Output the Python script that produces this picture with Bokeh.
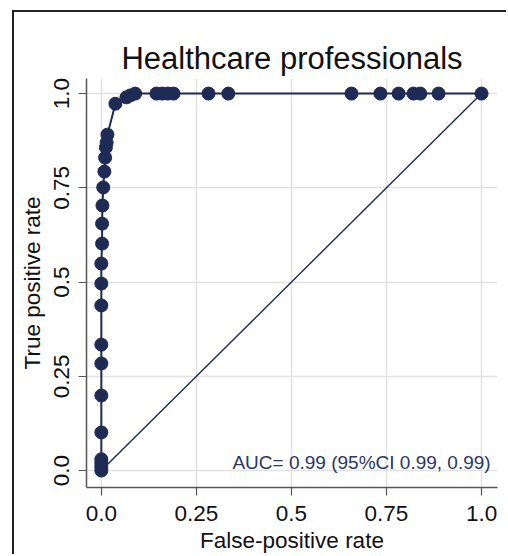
from bokeh.plotting import figure
from bokeh.models import FixedTicker, Range1d, Label
from bokeh.embed import file_html
from bokeh.resources import INLINE

# ROC operating points (false-positive rate, true-positive rate)
fpr = [0.0, 0.0, 0.0, 0.0, 0.0, 0.0, 0.0, 0.0, 0.0, 0.0, 0.0,
       0.002, 0.002, 0.003, 0.005, 0.008, 0.010, 0.012, 0.014, 0.016,
       0.037, 0.066, 0.076, 0.089, 0.145, 0.160, 0.175, 0.190,
       0.282, 0.334, 0.658, 0.734, 0.782, 0.821, 0.839, 0.887, 1.0]
tpr = [0.0, 0.01, 0.02, 0.03, 0.101, 0.199, 0.284, 0.334, 0.438, 0.496, 0.549,
       0.602, 0.655, 0.703, 0.751, 0.793, 0.830, 0.857, 0.870, 0.891,
       0.973, 0.990, 0.995, 1.0, 1.0, 1.0, 1.0, 1.0,
       1.0, 1.0, 1.0, 1.0, 1.0, 1.0, 1.0, 1.0, 1.0]

# reference line of no discrimination
ref_x = [0.0, 1.0]
ref_y = [0.0, 1.0]

tick_values = [0.0, 0.25, 0.5, 0.75, 1.0]
tick_labels = ["0.0", "0.25", "0.5", "0.75", "1.0"]

auc_text = "AUC= 0.99 (95%CI 0.99, 0.99)"

NAVY = "#1d2b55"
FONT = "Liberation Sans"

p = figure(width=494, height=544, output_backend="svg", toolbar_location=None,
           title="Healthcare professionals",
           x_range=Range1d(-0.039, 1.042), y_range=Range1d(-0.045, 1.040),
           min_border_left=72, min_border_right=11,
           min_border_top=66, min_border_bottom=69)

p.styles = {"margin-left": "12px", "margin-top": "10px",
            "border-left": "2px solid #222", "border-top": "2px solid #222"}

p.title.text_font = FONT
p.title.text_font_size = "31px"
p.title.text_font_style = "normal"
p.title.text_color = "#111111"
p.title.align = "center"
p.title.standoff = 6
p.title.offset = 0

p.outline_line_color = None
p.background_fill_color = "white"
p.border_fill_color = "white"

ticks = {v: s for v, s in zip(tick_values, tick_labels)}
for ax in (p.xaxis[0], p.yaxis[0]):
    ax.ticker = FixedTicker(ticks=tick_values)
    ax.major_label_overrides = ticks
    ax.minor_tick_line_color = None
    ax.major_tick_in = 0
    ax.major_tick_out = 8
    ax.axis_line_color = "#555555"
    ax.axis_line_width = 1.5
    ax.major_tick_line_color = "#555555"
    ax.major_tick_line_width = 1.2
    ax.major_label_text_font = FONT
    ax.major_label_text_font_size = "22.5px"
    ax.major_label_text_color = "#111111"
    ax.major_label_standoff = 10
    ax.axis_label_text_font = FONT
    ax.axis_label_text_font_size = "22.5px"
    ax.axis_label_text_font_style = "normal"
    ax.axis_label_text_color = "#111111"

p.xaxis.axis_label = "False-positive rate"
p.yaxis.axis_label = "True positive rate"
p.yaxis.major_label_orientation = "vertical"
p.yaxis.major_label_standoff = 9
p.xaxis.axis_label_standoff = 4
p.yaxis.axis_label_standoff = 7

for g in (p.xgrid[0], p.ygrid[0]):
    g.ticker = FixedTicker(ticks=tick_values)
    g.grid_line_color = "#e2e2e2"
    g.grid_line_width = 1.5

p.line(ref_x, ref_y, line_color=NAVY, line_width=1.4)
p.line(fpr, tpr, line_color=NAVY, line_width=2)
p.scatter(fpr, tpr, size=13, fill_color=NAVY, line_color=NAVY)

p.add_layout(Label(x=1.024, y=0.021, text=auc_text, text_align="right",
                   text_baseline="middle", text_font=FONT,
                   text_font_size="19px", text_color="#2a3766"))

open("out.html", "w").write(file_html(p, INLINE))
